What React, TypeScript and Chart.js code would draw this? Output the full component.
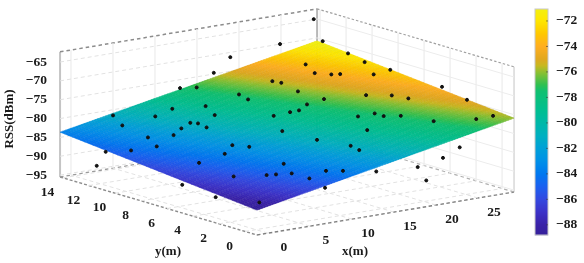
import React, { useEffect, useRef } from "react";
import { Chart, registerables } from "chart.js";

Chart.register(...registerables);

// Measured RSS samples
const pointX = [13.15,14.3,4.65,3.65,7.14,9.4,11.91,11.06,15.62,15.84,20.03,20.32,14.63,16.24,8.31,8.7,8.61,6.87,5.33,3.36,2.49,0.25,-1.3,-1.3,12.76,7.42,8.21,5.57,2.54,7.68,2.56,4.83,5.53,6.67,-1.3,-1.3,0.06,24.89,18.97,17.0,28.9,29.3,29.3,28.8,29.3,24.75,23.94,24.77,25.38,27.43,20.01,20.42,23.68,25.24,25.8,29.3,29.3,28.35,26.78,23.8,22.58,21.47,21.33,19.81,18.23,18.52,17.07,13.55,14.71,14.57,9.22,10.28,6.98,6.8,12.9,17.83,18.85,20.84,22.83];
const pointY = [14.34,13.8,14.0,12.64,12.36,12.51,11.57,10.32,10.7,11.54,11.68,11.18,8.09,7.87,10.42,10.08,9.36,10.18,9.78,10.48,9.24,9.77,10.72,11.41,6.22,6.61,5.82,6.0,6.02,2.83,3.37,2.3,2.03,1.56,4.83,2.26,-0.22,14.23,14.23,14.23,14.23,13.8,11.85,10.25,8.6,12.17,10.95,10.21,9.92,8.67,9.7,7.96,6.83,5.86,4.95,4.62,2.7,0.08,0.36,1.71,3.45,4.05,4.65,4.95,3.22,8.04,7.72,4.06,2.22,1.47,0.57,-0.05,0.4,-0.92,-0.92,-0.92,-0.92,-0.92,-0.92];
const pointRss = [-77.42,-77.12,-81.15,-82.05,-80.67,-79.65,-78.92,-79.72,-77.65,-77.26,-75.43,-75.48,-78.98,-78.37,-80.85,-80.8,-81.09,-81.54,-82.34,-82.93,-83.73,-84.5,-85.25,-89.67,-80.43,-82.56,-82.5,-83.56,-84.84,-83.77,-85.76,-85.17,-84.97,-84.65,-88.03,-88.69,-88.08,-70.0,-71.26,-74.68,-64.88,-70.43,-71.7,-72.2,-72.76,-73.25,-74.02,-73.93,-73.77,-73.34,-76.13,-76.57,-75.58,-75.25,-75.33,-73.22,-74.71,-75.96,-76.52,-77.32,-77.23,-77.49,-77.34,-77.88,-79.16,-77.34,-78.07,-80.85,-81.0,-81.32,-83.91,-83.68,-84.92,-85.99,-83.93,-84.62,-88.54,-83.29,-81.25];

// Axis ticks and limits
const xTicks = [0, 5, 10, 15, 20, 25];
const yTicks = [0, 2, 4, 6, 8, 10, 12, 14];
const zTicks = [-95, -90, -85, -80, -75, -70, -65];
const barTicks = [-88, -86, -84, -82, -80, -78, -76, -74, -72];
const xLim = [-1.3, 29.3];
const yLim = [-0.92, 14.23];
const zLim = [-95.5, -62.3];

// Fitted surface: RSS at the corners [y = min: x min, x max], [y = max: x min, x max]
const surfaceRssLowY = [-88.9, -75.9];
const surfaceRssHighY = [-83.6, -70.8];

// Colour bar
const barLimits = [-88.8, -71.06];
const barStops = [-88.8,-88,-87,-86,-85,-84,-83,-82,-81,-80,-79,-77.5,-77,-76,-75.5,-75,-74,-73,-72,-71.06];
const barColors = ["#35209a","#3a22a8","#3c32c8","#3348e0","#1a60f0","#0078f0","#0090e8","#00a0d8","#00b0c0","#00b8a8","#00bf90","#10c070","#30c050","#90c030","#c8b820","#e0a820","#ffae20","#ffc800","#ffe600","#f4f010"];

const toRgb = (h: string) => [1, 3, 5].map((i) => parseInt(h.slice(i, i + 2), 16));
function colorFor(v: number) {
  if (v <= barStops[0]) return barColors[0];
  for (let i = 1; i < barStops.length; i++) {
    if (v <= barStops[i]) {
      const t = (v - barStops[i - 1]) / (barStops[i] - barStops[i - 1]);
      const a = toRgb(barColors[i - 1]);
      const b = toRgb(barColors[i]);
      return `rgb(${a.map((c, k) => Math.round(c + (b[k] - c) * t)).join(",")})`;
    }
  }
  return barColors[barColors.length - 1];
}

// Fixed oblique view of the 3-D box onto the chart's two view scales
const proj = (x: number, y: number, z: number) => ({
  x: 257 + 8.4 * (x - xLim[0]) - 13 * (y - yLim[0]),
  y: 235 - 1.405 * (x - xLim[0]) - 3.828 * (y - yLim[0]) - 3.77 * (z - zLim[0]),
});

const seg = (a: number[], b: number[]) => [proj(a[0], a[1], a[2]), proj(b[0], b[1], b[2])];

const lineSet = (data: any[], color: string, width: number, dash: number[] = []) => ({
  type: "scatter" as const,
  data,
  showLine: true,
  borderColor: color,
  borderWidth: width,
  borderDash: dash,
  pointRadius: 0,
  clip: false as any,
  order: 2,
});

const [x0, x1] = xLim;
const [y0, y1] = yLim;
const [z0, z1] = zLim;

function gridDatasets() {
  const sets: any[] = [];
  const faint = "#e2e2e2";
  const soft = "#ececec";
  zTicks.forEach((z) => {
    sets.push(lineSet(seg([x0, y1, z], [x1, y1, z]), faint, 1, [4, 3]));
    sets.push(lineSet(seg([x1, y1, z], [x1, y0, z]), soft, 1));
  });
  xTicks.forEach((x) => {
    sets.push(lineSet(seg([x, y1, z0], [x, y1, z1]), soft, 1.2));
    sets.push(lineSet(seg([x, y0, z0], [x, y1, z0]), faint, 1, [4, 3]));
  });
  yTicks.forEach((y) => {
    sets.push(lineSet(seg([x1, y, z0], [x1, y, z1]), soft, 1.2));
    sets.push(lineSet(seg([x0, y, z0], [x1, y, z0]), faint, 1, [4, 3]));
  });
  // box edges
  sets.push(lineSet(seg([x0, y1, z1], [x1, y1, z1]), "#8c8c8c", 1.5, [3.5, 3]));
  sets.push(lineSet(seg([x1, y1, z1], [x1, y0, z1]), "#a0a0a0", 1.2, [2.5, 2]));
  sets.push(lineSet(seg([x0, y1, z0], [x1, y1, z0]), "#9a9a9a", 1.3, [3.5, 3]));
  sets.push(lineSet(seg([x1, y1, z0], [x1, y0, z0]), "#b0b0b0", 1.2, [3.5, 3]));
  sets.push(lineSet(seg([x0, y1, z0], [x0, y0, z0]), "#8c8c8c", 1.4, [3, 2]));
  sets.push(lineSet(seg([x0, y0, z0], [x1, y0, z0]), "#808080", 1.4, [3.5, 2.5]));
  sets.push(lineSet(seg([x0, y1, z0], [x0, y1, z1]), "#c4c4c4", 2));
  sets.push(lineSet(seg([x1, y1, z0], [x1, y1, z1]), "#b8b8b8", 2));
  sets.push(lineSet(seg([x1, y0, z0], [x1, y0, z1]), "#d8d8d8", 1.5));
  return sets;
}

const SERIF = '"Liberation Serif", "Times New Roman", serif';

const surfacePlugin = {
  id: "surface",
  beforeDatasetDraw(chart: any, args: any) {
    if (args.index !== 0) return;
    const { ctx, scales } = chart;
    const P = (x: number, y: number, z: number) => {
      const p = proj(x, y, z);
      return [scales.x.getPixelForValue(p.x), scales.y.getPixelForValue(p.y)];
    };
    const nx = 96;
    const ny = 48;
    const rssAt = (u: number, v: number) => {
      const lo = surfaceRssLowY[0] + (surfaceRssLowY[1] - surfaceRssLowY[0]) * u;
      const hi = surfaceRssHighY[0] + (surfaceRssHighY[1] - surfaceRssHighY[0]) * u;
      return lo + (hi - lo) * v;
    };
    ctx.save();
    for (let i = 0; i < nx; i++) {
      for (let j = 0; j < ny; j++) {
        const u = [i / nx, (i + 1) / nx];
        const v = [j / ny, (j + 1) / ny];
        const c = [[u[0], v[0]], [u[1], v[0]], [u[1], v[1]], [u[0], v[1]]];
        ctx.beginPath();
        c.forEach(([a, b], k) => {
          const [px, py] = P(x0 + (x1 - x0) * a, y0 + (y1 - y0) * b, rssAt(a, b));
          if (k) ctx.lineTo(px, py);
          else ctx.moveTo(px, py);
        });
        ctx.closePath();
        const col = colorFor(rssAt((u[0] + u[1]) / 2, (v[0] + v[1]) / 2));
        ctx.fillStyle = col;
        ctx.strokeStyle = col;
        ctx.lineWidth = 0.5;
        ctx.fill();
        ctx.stroke();
        ctx.strokeStyle = "rgba(0,0,0,0.05)";
        ctx.stroke();
      }
    }
    ctx.restore();
  },
  afterDraw(chart: any) {
    const { ctx, scales, chartArea } = chart;
    const cb = scales.cb;
    const barL = 535;
    const barR = chartArea.right;
    ctx.save();
    const top = cb.getPixelForValue(barLimits[1]);
    const bottom = cb.getPixelForValue(barLimits[0]);
    for (let py = top; py < bottom; py += 1) {
      ctx.fillStyle = colorFor(cb.getValueForPixel(py + 0.5));
      ctx.fillRect(barL, py, barR - barL, 1.2);
    }
    ctx.strokeStyle = "#c8c8c8";
    ctx.lineWidth = 1;
    ctx.strokeRect(barL, top, barR - barL, bottom - top);
    ctx.strokeStyle = "rgba(60,60,60,0.6)";
    cb.ticks.forEach((t: any) => {
      const py = cb.getPixelForValue(t.value);
      ctx.beginPath();
      ctx.moveTo(barR - 2, py);
      ctx.lineTo(barR, py);
      ctx.stroke();
    });

    const S = (p: { x: number; y: number }) => [scales.x.getPixelForValue(p.x), scales.y.getPixelForValue(p.y)];
    ctx.fillStyle = "#1a1a1a";
    ctx.font = `bold 13.5px ${SERIF}`;
    ctx.textBaseline = "middle";
    ctx.textAlign = "right";
    zTicks.forEach((z) => {
      const [px, py] = S(proj(x0, y1, z));
      ctx.fillText("\u2212" + Math.abs(z), px - 13, py);
    });
    ctx.textAlign = "center";
    xTicks.forEach((x) => {
      const [px, py] = S(proj(x, y0, z0));
      ctx.fillText(String(x), px + 16, py + 14.5);
    });
    yTicks.forEach((y) => {
      const [px, py] = S(proj(x0, y, z0));
      ctx.fillText(String(y), px - 15.5, py + 14.8);
    });
    ctx.font = `bold 13px ${SERIF}`;
    ctx.fillText("x(m)", 355, 252);
    ctx.fillText("y(m)", 168, 252);
    ctx.translate(10, 119);
    ctx.rotate(-Math.PI / 2);
    ctx.fillText("RSS(dBm)", 0, 0);
    ctx.restore();
  },
};

export default function App() {
  const ref = useRef<HTMLCanvasElement>(null);
  useEffect(() => {
    const pts = pointX.map((x, i) => proj(x, pointY[i], pointRss[i]));
    const chart = new Chart(ref.current as HTMLCanvasElement, {
      type: "scatter",
      data: {
        datasets: [
          {
            label: "Measured RSS",
            data: pts,
            backgroundColor: "#111",
            borderColor: "#111",
            pointRadius: 1.5,
            clip: false as any,
            order: 1,
          },
          ...gridDatasets(),
        ],
      },
      options: {
        animation: false,
        responsive: false,
        layout: { autoPadding: false, padding: { top: 9, bottom: 28, left: 0, right: 0 } },
        plugins: { legend: { display: false }, tooltip: { enabled: false } },
        scales: {
          x: { type: "linear", min: 0, max: 548, display: false },
          y: { type: "linear", min: 9, max: 235, reverse: true, display: false },
          cb: {
            type: "linear",
            position: "right",
            min: barLimits[0],
            max: barLimits[1],
            grid: { display: false, drawTicks: false },
            border: { display: false },
            afterFit: (s: any) => {
              s.width = 36;
              s.paddingTop = 0;
              s.paddingBottom = 0;
              s.getPadding = () => ({ left: 0, right: 0, top: 0, bottom: 0 });
            },
            afterBuildTicks: (s: any) => {
              s.ticks = barTicks.map((value) => ({ value }));
            },
            ticks: {
              padding: 8,
              color: "#1a1a1a",
              font: { family: SERIF, size: 13.5, weight: "bold" },
              callback: (v: any) => "\u2212" + Math.abs(Number(v)),
            },
          },
        },
      } as any,
      plugins: [surfacePlugin],
    });
    return () => chart.destroy();
  }, []);
  return (
    <div style={{ position: "absolute", left: 0, top: 0, width: 584, height: 263 }}>
      <canvas ref={ref} width={584} height={263} style={{ display: "block", filter: "blur(0.6px)" }} />
    </div>
  );
}
